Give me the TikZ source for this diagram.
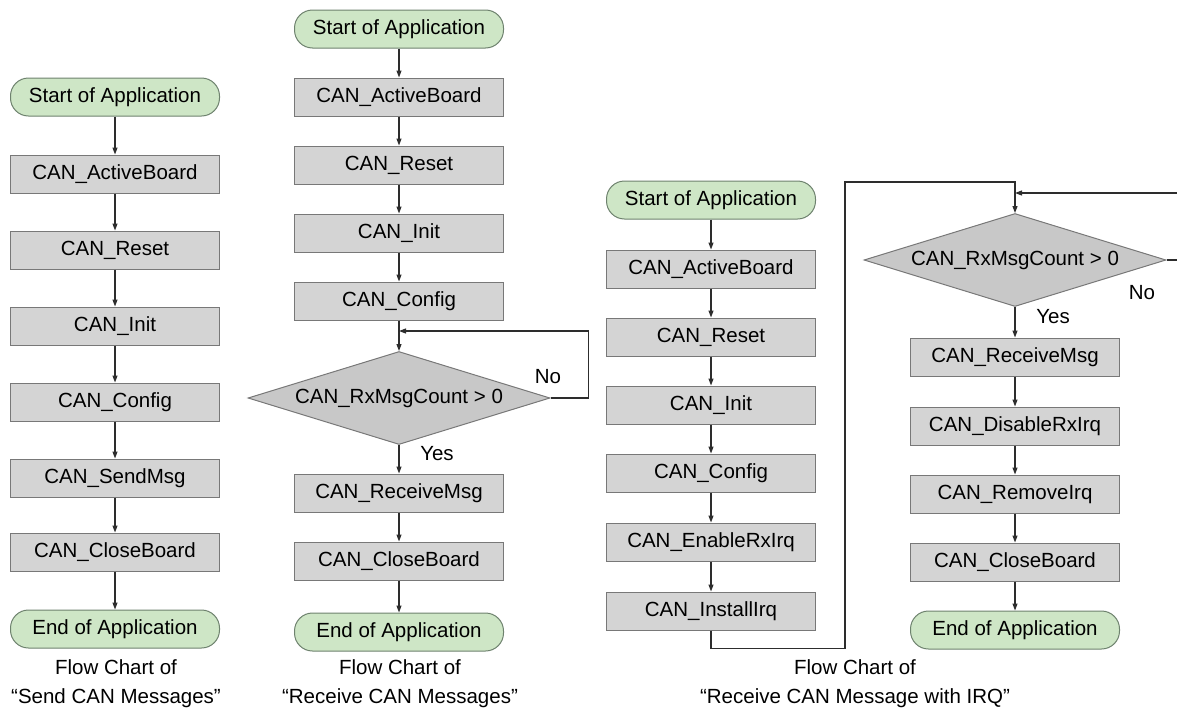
\documentclass[tikz,border=0pt]{standalone}
\usepackage{fontspec}
\setmainfont{Liberation Sans}
\usetikzlibrary{shapes.geometric,arrows.meta}
\definecolor{boxgray}{RGB}{212,212,212}
\definecolor{boxline}{RGB}{120,120,120}
\definecolor{diagray}{RGB}{200,200,200}
\definecolor{termgreen}{RGB}{206,230,198}
\definecolor{termline}{RGB}{110,130,110}
\definecolor{linecol}{RGB}{45,45,45}
\begin{document}
\begin{tikzpicture}[x=1pt,y=-1pt,
  font=\fontsize{20.5}{29}\selectfont,
  procbox/.style={draw=boxline,fill=boxgray,line width=1pt,minimum width=209pt,minimum height=38pt,inner sep=0pt,text height=14.5pt,text depth=4pt},
  termbox/.style={draw=termline,fill=termgreen,line width=1pt,rounded corners=18pt,minimum width=209pt,minimum height=38pt,inner sep=0pt,text height=14.5pt,text depth=4pt},
  decision/.style={diamond,draw=boxline,fill=diagray,line width=1pt,minimum width=302pt,minimum height=93pt,inner sep=0pt,aspect=3.2},
  flow/.style={draw=linecol,line width=1.1pt,-{Triangle[length=7pt,width=5pt]}},
  caption/.style={align=center}]
\useasboundingbox (0,0) rectangle (1177,715);
% send CAN messages
\node[termbox] (sa) at (115,97) {Start of Application};
\node[procbox] (a1) at (115,174) {CAN\_ActiveBoard};
\node[procbox] (a2) at (115,250) {CAN\_Reset};
\node[procbox] (a3) at (115,326) {CAN\_Init};
\node[procbox] (a4) at (115,402) {CAN\_Config};
\node[procbox] (a5) at (115,478) {CAN\_SendMsg};
\node[procbox] (a6) at (115,552) {CAN\_CloseBoard};
\node[termbox] (ea) at (115,629) {End of Application};
\node[caption] (capa) at (116,684) {Flow Chart of\\“Send CAN Messages”};
\draw[flow] (sa) -- (a1);
\draw[flow] (a1) -- (a2);
\draw[flow] (a2) -- (a3);
\draw[flow] (a3) -- (a4);
\draw[flow] (a4) -- (a5);
\draw[flow] (a5) -- (a6);
\draw[flow] (a6) -- (ea);
% receive CAN messages
\node[termbox] (sb) at (399,29) {Start of Application};
\node[procbox] (b1) at (399,97) {CAN\_ActiveBoard};
\node[procbox] (b2) at (399,165) {CAN\_Reset};
\node[procbox] (b3) at (399,233) {CAN\_Init};
\node[procbox] (b4) at (399,301) {CAN\_Config};
\node[decision] (db) at (399,398) {CAN\_RxMsgCount > 0};
\node[procbox] (b5) at (399,493) {CAN\_ReceiveMsg};
\node[procbox] (b6) at (399,561) {CAN\_CloseBoard};
\node[termbox] (eb) at (399,632) {End of Application};
\node (nob) at (548,377) {No};
\node (yesb) at (437,454) {Yes};
\node[caption] (capb) at (400,684) {Flow Chart of\\“Receive CAN Messages”};
\coordinate (jb) at (399,331);
\draw[flow] (sb) -- (b1);
\draw[flow] (b1) -- (b2);
\draw[flow] (b2) -- (b3);
\draw[flow] (b3) -- (b4);
\draw[flow] (b4) -- (db);
\draw[flow] (db.east) -- ++(38,0) |- (jb);
\draw[flow] (db) -- (b5);
\draw[flow] (b5) -- (b6);
\draw[flow] (b6) -- (eb);
% receive CAN message with IRQ
\node[termbox] (sc) at (711,200) {Start of Application};
\node[procbox] (c1) at (711,269) {CAN\_ActiveBoard};
\node[procbox] (c2) at (711,337) {CAN\_Reset};
\node[procbox] (c3) at (711,405) {CAN\_Init};
\node[procbox] (c4) at (711,473) {CAN\_Config};
\node[procbox] (c5) at (711,542) {CAN\_EnableRxIrq};
\node[procbox] (c6) at (711,611) {CAN\_InstallIrq};
\node[decision] (dc) at (1015,260) {CAN\_RxMsgCount > 0};
\node[procbox] (c7) at (1015,357) {CAN\_ReceiveMsg};
\node[procbox] (c8) at (1015,426) {CAN\_DisableRxIrq};
\node[procbox] (c9) at (1015,494) {CAN\_RemoveIrq};
\node[procbox] (c10) at (1015,562) {CAN\_CloseBoard};
\node[termbox] (ec) at (1015,630) {End of Application};
\node (noc) at (1142,293) {No};
\node (yesc) at (1053,317) {Yes};
\node[caption] (capc) at (855,684) {Flow Chart of\\“Receive CAN Message with IRQ”};
\coordinate (jc) at (845,182);
\coordinate (jd) at (1015,193);
\draw[flow] (sc) -- (c1);
\draw[flow] (c1) -- (c2);
\draw[flow] (c2) -- (c3);
\draw[flow] (c3) -- (c4);
\draw[flow] (c4) -- (c5);
\draw[flow] (c5) -- (c6);
\draw[flow] (c6.south) -- ++(0,18) -| (jc) -| (dc.north);
\draw[flow] (dc.east) -- ++(11,0) |- (jd);
\draw[flow] (dc) -- (c7);
\draw[flow] (c7) -- (c8);
\draw[flow] (c8) -- (c9);
\draw[flow] (c9) -- (c10);
\draw[flow] (c10) -- (ec);
\end{tikzpicture}
\end{document}
